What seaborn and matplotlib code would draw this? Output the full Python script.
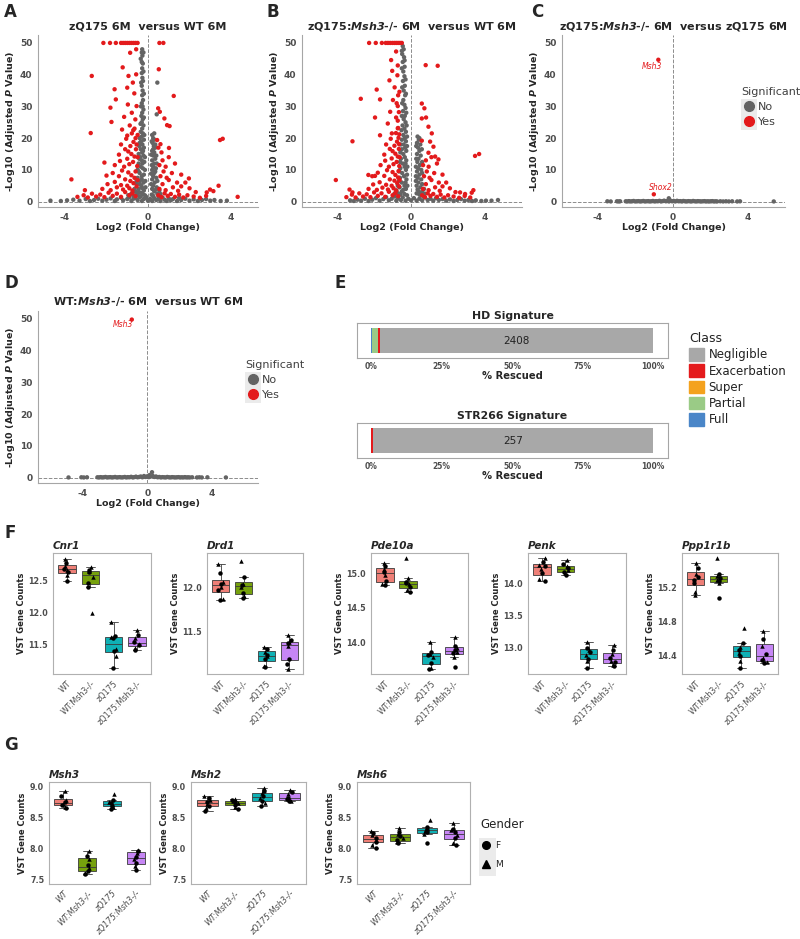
import numpy as np
import pandas as pd
import matplotlib
matplotlib.use('Agg')
import matplotlib.pyplot as plt
import seaborn as sns
from matplotlib.patches import Patch, Rectangle
from matplotlib.lines import Line2D

sns.set_style('white')
plt.rcParams['font.family'] = ['DejaVu Sans']
plt.rcParams['mathtext.fontset'] = 'dejavusans'
plt.rcParams['axes.unicode_minus'] = False

# ---------------- volcano data (log2 fold change, -log10 adjusted p) ----------------
a_grey = [(-0.28,48),(-0.3,47),(-0.27,46),(-0.3,44),(-0.25,43.5),(-0.28,42),(-0.3,40.5),(-0.27,39),(-0.24,38),
          (-0.3,36.5),(-0.26,35),(-0.28,33.5),(-0.24,32),(-0.3,31),(-0.26,30),(-0.22,29),(-0.28,28),(-0.32,27),
          (-0.25,26),(-0.3,25),(-0.22,24),(-0.28,23),(-0.35,22),(-0.25,21.5),(-0.3,20.5),(-0.4,20),(-0.2,19.5),
          (-0.33,19),(-0.27,18),(-0.42,17.5),(-0.2,17),(-0.35,16.5),(-0.28,15.5),(-0.45,15),(-0.22,14.5),
          (-0.38,14),(-0.3,13),(-0.18,12.5),(-0.45,12),(-0.35,11),(-0.25,10.5),(-0.5,10),(-0.4,9),(-0.2,8.5),
          (-0.3,8),(-0.5,7.5),(-0.4,6.5),(-0.22,6),(-0.55,5.5),(-0.32,5),(-0.45,4),(-0.2,3.5),(-0.6,3.2),
          (-0.35,2.8),(-0.5,2.2),(-0.15,2),(-0.7,1.8),
          (-0.22,47),(-0.35,45),(-0.22,41),(-0.33,37.5),(-0.2,34),(-0.34,30),(-0.2,26.5),(-0.36,24.5),(-0.18,21),
          (-0.4,18.5),(-0.24,16),(-0.15,14),(-0.42,13.5),(-0.27,12),(-0.15,10),(-0.45,9.5),(-0.3,7),(-0.13,6.5),
          (-0.55,6.5),(-0.4,5.5),(-0.28,4.3),(-0.12,4.5),(-0.65,4),(-0.45,3),(-0.25,2.4),(-0.8,2.5),(-0.6,2),
          (-0.1,1.6),(-0.35,1.6),(-0.95,2),
          (0.2,21),(0.25,20),(0.3,19.5),(0.22,18.5),(0.28,17.5),(0.35,17),(0.2,16),(0.3,15.5),(0.25,14.5),
          (0.35,13.5),(0.2,13),(0.3,12),(0.25,11),(0.38,10.5),(0.2,10),(0.3,9),(0.25,8),(0.4,7.5),(0.2,7),
          (0.32,6),(0.25,5),(0.42,4.5),(0.2,4),(0.3,3.2),(0.45,2.5),(0.18,2.2),(0.5,1.8),(0.45,37.5),(0.42,27.5),
          (0.3,21.5),(0.18,19),(0.35,18),(0.25,16.5),(0.15,14.8),(0.4,14.5),(0.18,11.5),(0.42,12),(0.35,9.5),
          (0.15,8.8),(0.45,6.5),(0.15,5.5),(0.38,3.8),(0.55,3.5),(0.6,2.4),(0.25,1.8),
          (-4.7,0.3),(-4.2,0.2),(-3.9,0.4),(-3.6,0.6),(-3.3,0.3),(-3.0,0.8),(-2.8,0.2),(-2.6,0.5),(-2.4,0.9),
          (-2.2,0.3),(-2.0,0.6),(-1.8,1.0),(-1.6,0.2),(-1.5,0.7),(-1.3,1.2),(-1.2,0.4),(-1.0,0.8),(-0.9,1.4),
          (-0.8,0.2),(-0.7,0.9),(-0.6,1.2),(-0.5,0.5),(-0.4,1.5),(-0.3,0.2),(-0.2,0.8),(-0.1,1.2),(0.0,0.3),
          (0.1,0.9),(0.2,0.2),(0.3,1.1),(0.4,0.5),(0.5,0.9),(0.6,0.2),(0.7,1.3),(0.8,0.6),(0.9,0.2),(1.0,1.0),
          (1.1,0.4),(1.2,0.8),(1.4,0.2),(1.5,1.2),(1.6,0.5),(1.8,0.9),(2.0,0.3),(2.2,0.7),(2.4,0.2),(2.6,0.5),
          (2.8,0.8),(3.0,0.3),(3.2,0.5),(3.5,0.2),(3.8,0.3)]
a_red = [(-2.15,50),(-1.83,50),(-1.55,50),(-1.3,50),(-1.2,50),(-1.1,50),(-1.0,50),(-0.9,50),(-0.8,50),
         (-0.7,50),(-0.6,50),(-0.5,50),(0.55,50),(0.74,50),
         (-2.71,39.6),(-2.76,21.6),(-3.69,7.0),(-3.04,3.6),(-1.61,35.4),(-1.55,32.2),(-1.81,29.6),(-1.76,25.1),
         (-2.1,12.3),(-1.22,42.3),(-0.86,46.9),(-0.57,48),(-0.94,39.6),(-0.57,40.1),(-0.73,37.5),(-1.0,35.9),
         (-0.66,34.1),(-0.97,30.6),(-0.55,30.1),(-0.78,28),(-1.15,26.7),(-0.61,25.9),(-0.88,24),(-1.25,22.7),
         (-0.71,22.5),(-1.0,20.8),(0.52,41.7),(0.49,29.4),(0.57,28.3),(0.79,26.2),(0.92,24.1),(1.04,23.8),
         (1.24,33.3),(0.44,19.4),(0.6,18.1),(1.01,16.9),(1.97,7.3),(3.47,19.4),(3.6,19.8),(3.4,5.0),
         (2.99,3.8),(2.83,2.9),(3.15,3.3),(4.32,1.5),
         (-3.4,1.5),(-3.1,2.0),(-2.9,1.3),(-2.7,2.5),(-2.5,1.6),(-2.3,2.2),(-2.1,1.4),(-1.9,2.8),(-1.7,1.8),
         (-1.5,2.5),(-1.3,1.5),(-1.1,3.0),(-0.9,2.0),(-0.75,2.6),(-0.6,1.7),(-2.2,4.0),(-1.95,5.5),(-1.8,3.6),
         (-1.6,6.2),(-1.5,4.5),(-1.4,8.0),(-1.3,5.2),(-1.2,3.8),(-1.1,7.0),(-1.0,5.0),(-0.95,9.2),(-0.9,4.2),
         (-0.85,6.5),(-0.8,8.3),(-0.75,3.5),(-0.7,5.8),(-0.65,7.5),(-0.6,9.5),(-0.55,4.8),(-0.5,6.8),
         (-1.7,9.0),(-2.0,8.2),(-1.25,9.8),(-1.6,11.5),(-1.35,12.8),(-1.15,11.0),(-1.0,13.5),(-0.9,11.8),
         (-0.8,15.0),(-0.72,12.5),(-0.65,14.2),(-0.58,16.5),(-0.52,11.2),(-0.85,17.5),(-0.7,18.8),(-0.6,20.0),
         (-0.95,15.8),(-1.1,16.5),(-0.5,14.0),(-0.55,18.0),(-0.78,21.5),(-1.3,18.0),(-0.65,23.0),(-0.5,21.0),
         (-1.05,19.8),(-1.4,14.8),
         (0.5,2.0),(0.65,1.4),(0.8,2.6),(0.95,1.8),(1.1,2.4),(1.3,1.5),(1.5,2.2),(1.7,1.3),(1.9,2.0),(2.2,1.6),
         (2.5,1.2),(2.8,1.8),(0.55,4.0),(0.7,5.5),(0.85,3.6),(1.0,6.8),(1.2,4.5),(1.45,3.4),(0.6,8.0),
         (0.75,9.5),(0.9,7.5),(1.15,9.0),(1.4,6.0),(1.6,4.8),(0.55,11.5),(0.7,13.0),(0.85,11.0),(1.0,14.0),
         (0.65,15.5),(0.5,17.0),(1.3,12.0),(1.6,8.5),(1.8,6.0),(2.3,3.0),(2.0,4.2)]

b_grey = [(-0.45,49),(-0.4,48),(-0.48,46.5),(-0.38,45.5),(-0.45,44),(-0.35,42.5),(-0.42,41),(-0.36,39.5),
          (-0.44,38),(-0.34,36.5),(-0.4,35),(-0.32,33.5),(-0.42,32),(-0.36,30.5),(-0.3,29.5),(-0.44,28.5),
          (-0.34,27),(-0.4,26),(-0.3,25),(-0.46,24),(-0.36,23),(-0.28,22),(-0.42,21),(-0.34,20),(-0.5,19.5),
          (-0.28,19),(-0.4,18),(-0.32,17),(-0.5,16.5),(-0.26,16),(-0.42,15),(-0.34,14),(-0.55,13.5),(-0.26,13),
          (-0.45,12),(-0.35,11),(-0.58,10.5),(-0.28,10),(-0.48,9),(-0.38,8),(-0.6,7.5),(-0.25,7),(-0.5,6),
          (-0.36,5),(-0.62,4.5),(-0.28,4),(-0.5,3.2),(-0.7,2.6),(-0.36,2.4),(-0.22,2),
          (-0.5,47.5),(-0.35,44.5),(-0.5,42),(-0.3,38.5),(-0.48,36),(-0.28,34),(-0.48,31),(-0.26,28),(-0.5,27),
          (-0.24,24),(-0.52,22.5),(-0.22,20.5),(-0.56,18),(-0.22,17.5),(-0.58,15.5),(-0.3,12),(-0.6,12.5),
          (-0.2,11),(-0.64,9.5),(-0.22,8.5),(-0.66,6.5),(-0.3,6),(-0.72,5),(-0.2,5),(-0.8,3.5),(-0.42,3.7),
          (-0.9,2.5),(-0.58,2.2),
          (0.35,20.5),(0.42,19.5),(0.32,18.5),(0.5,18),(0.38,17),(0.45,16),(0.32,15),(0.52,14.5),(0.4,13.5),
          (0.34,12.5),(0.48,11.5),(0.38,10.5),(0.55,10),(0.32,9.5),(0.45,8.5),(0.36,7.5),(0.55,7),(0.4,6),
          (0.3,5),(0.5,4.5),(0.35,3.8),(0.6,3),(0.3,2.6),(0.45,2.2),(0.65,1.8),
          (0.45,20),(0.28,17.5),(0.58,16.5),(0.28,13.5),(0.6,12.5),(0.26,11),(0.6,9),(0.26,8),(0.6,5.5),
          (0.26,6.5),(0.7,4),(0.42,3.2),(0.75,2.5),(0.55,2),
          (-3.3,0.4),(-3.1,0.2),(-2.9,0.6),(-2.7,0.3),(-2.5,0.9),(-2.3,0.2),(-2.1,0.6),(-1.9,1.1),(-1.7,0.3),
          (-1.5,0.8),(-1.35,1.4),(-1.2,0.4),(-1.05,0.9),(-0.9,1.6),(-0.8,0.3),(-0.7,1.0),(-0.55,0.5),
          (-0.45,1.3),(-0.3,0.3),(-0.15,0.9),(0.0,0.4),(0.15,1.1),(0.3,0.3),(0.45,0.9),(0.6,0.4),(0.75,1.3),
          (0.9,0.5),(1.05,0.9),(1.2,0.3),(1.35,1.1),(1.5,0.5),(1.7,0.8),(1.9,0.3),(2.1,0.7),(2.3,0.2),
          (2.5,0.5),(2.7,0.8),(2.9,0.3),(3.1,0.5),(3.3,0.2),(3.5,0.4),(3.8,0.2),(4.05,0.3),(4.35,0.3),(4.7,0.5)]
b_red = [(-2.27,50),(-1.91,50),(-1.58,50),(-1.37,50),(-1.25,50),(-1.13,50),(-1.01,50),(-0.9,50),(-0.8,50),
         (-0.7,50),(-0.6,50),(-0.5,50),
         (-3.17,19.0),(-4.07,6.8),(-3.33,3.8),(-3.17,2.9),(-2.72,32.4),(-1.86,35.3),(-1.68,32.2),(-1.95,26.5),
         (-1.68,20.9),(-2.31,8.4),(-1.95,8.1),(-1.08,44.6),(-0.81,47.3),(-1.02,41.2),(-0.72,42.9),(-1.17,38.2),
         (-0.74,39.8),(-0.89,36.0),(-0.63,34.6),(-0.98,32.0),(-0.72,30.1),(-1.13,28.3),(-0.81,26.5),
         (-1.26,24.6),(-0.72,23.1),(-1.04,21.5),(0.79,43.0),(1.44,42.8),(0.58,30.9),(0.72,29.4),(0.58,26.2),
         (0.81,26.5),(0.94,23.6),(1.12,21.5),(0.58,19.2),(1.03,18.9),(1.21,17.3),(0.94,15.4),(1.3,14.2),
         (1.48,13.3),(3.46,14.4),(3.68,15.0),(2.92,2.4),(2.65,2.9),(3.28,2.8),(3.37,3.6),
         (-3.5,1.4),(-3.2,2.2),(-3.0,1.3),(-2.8,2.6),(-2.6,1.6),(-2.4,2.3),(-2.2,1.4),(-2.0,2.9),(-1.8,1.8),
         (-1.6,2.6),(-1.4,1.5),(-1.2,3.1),(-1.0,2.0),(-0.85,2.7),(-0.7,1.7),(-2.3,4.0),(-2.05,5.4),
         (-1.85,3.7),(-1.7,6.1),(-1.55,4.4),(-1.45,8.1),(-1.35,5.3),(-1.25,3.8),(-1.15,7.0),(-1.05,5.0),
         (-1.0,9.3),(-0.95,4.2),(-0.9,6.6),(-0.85,8.4),(-0.8,3.5),(-0.75,5.8),(-0.7,7.6),(-0.68,9.6),
         (-0.65,4.8),(-0.62,6.8),(-1.8,9.1),(-2.1,8.0),(-1.3,9.9),(-1.65,11.5),(-1.4,12.9),(-1.2,11.0),
         (-1.05,13.6),(-0.95,11.8),(-0.85,15.1),(-0.78,12.5),(-0.72,14.2),(-0.66,16.6),(-0.64,11.2),
         (-0.9,17.6),(-0.76,18.9),(-0.68,20.1),(-1.0,15.9),(-1.15,16.6),(-0.62,14.0),(-0.65,18.1),
         (-0.82,21.6),(-1.35,18.0),(-0.7,23.2),(-0.64,21.2),(-1.1,19.8),(-1.45,14.8),(-0.72,25.5),
         (-0.66,28.2),(-0.78,31.0),(-0.7,33.5),
         (0.6,2.0),(0.75,1.4),(0.9,2.6),(1.05,1.8),(1.2,2.4),(1.4,1.5),(1.6,2.2),(1.8,1.3),(2.0,2.0),
         (2.3,1.6),(2.6,1.2),(2.9,1.8),(3.2,1.3),(0.65,4.0),(0.8,5.5),(0.95,3.6),(1.1,6.8),(1.3,4.5),
         (1.55,3.4),(0.7,8.0),(0.85,9.5),(1.0,7.5),(1.25,9.0),(1.5,6.0),(1.7,4.8),(0.65,11.5),(0.8,13.0),
         (0.95,11.0),(1.1,14.0),(1.4,12.0),(1.7,8.5),(1.9,6.0),(2.4,3.0),(2.1,4.2)]

c_grey = [(-3.48,0.1),(-3.3,0.05),(-2.97,0.1),(-2.88,0.05),(-2.8,0.1),(-2.5,0.1),(-2.42,0.05),(-2.33,0.15),
          (-2.25,0.05),(-2.16,0.1),(-2.08,0.2),(-1.99,0.05),(-1.9,0.1),(-1.82,0.15),(-1.73,0.05),(-1.65,0.1),
          (-1.56,0.2),(-1.48,0.05),(-1.39,0.1),(-1.3,0.15),(-1.22,0.05),(-1.13,0.1),(-1.05,0.2),(-0.96,0.05),
          (-0.88,0.15),(-0.79,0.1),(-0.7,0.25),(-0.62,0.05),(-0.53,0.15),(-0.45,0.3),(-0.36,0.1),(-0.28,0.2),
          (-0.2,1.05),(-0.19,0.05),(-0.1,0.3),(-0.02,0.1),(0.07,0.2),(0.15,0.05),(0.24,0.25),(0.32,0.1),
          (0.41,0.15),(0.5,0.05),(0.58,0.2),(0.67,0.1),(0.75,0.05),(0.84,0.15),(0.93,0.1),(1.01,0.05),
          (1.1,0.2),(1.18,0.1),(1.27,0.05),(1.35,0.15),(1.44,0.1),(1.52,0.05),(1.61,0.1),(1.7,0.15),
          (1.78,0.05),(1.87,0.1),(1.95,0.05),(2.04,0.1),(2.12,0.15),(2.21,0.05),(2.3,0.1),(2.38,0.05),
          (2.55,0.1),(2.7,0.05),(2.85,0.1),(3.0,0.05),(3.18,0.1),(3.45,0.05),(3.6,0.1),(5.4,0.05)]
c_red = [(-0.76,44.7),(-1.0,2.3)]
c_text = [('Msh3', -1.12, 42.6), ('Shox2', -0.62, 4.4)]

d_grey = [(-4.9,0.05),(-4.1,0.1),(-3.95,0.05),(-3.75,0.1),(-3.1,0.1),(-3.0,0.05),(-2.9,0.15),(-2.8,0.05),
          (-2.7,0.1),(-2.6,0.2),(-2.5,0.05),(-2.4,0.1),(-2.3,0.15),(-2.2,0.05),(-2.1,0.1),(-2.0,0.2),
          (-1.9,0.05),(-1.8,0.1),(-1.7,0.15),(-1.6,0.05),(-1.5,0.1),(-1.4,0.2),(-1.3,0.05),(-1.2,0.15),
          (-1.1,0.1),(-1.0,0.25),(-0.9,0.05),(-0.8,0.15),(-0.7,0.3),(-0.6,0.1),(-0.5,0.2),(-0.4,0.35),
          (-0.3,0.1),(-0.2,0.5),(-0.1,0.2),(0.0,0.4),(0.1,0.15),(0.15,0.8),(0.2,0.3),(0.3,1.7),(0.35,0.5),
          (0.45,0.2),(0.55,0.35),(0.65,0.1),(0.75,0.2),(0.85,0.05),(0.95,0.15),(1.05,0.1),(1.15,0.05),
          (1.25,0.2),(1.35,0.1),(1.45,0.05),(1.55,0.15),(1.65,0.1),(1.75,0.05),(1.85,0.1),(1.95,0.15),
          (2.05,0.05),(2.15,0.1),(2.25,0.05),(2.35,0.15),(2.45,0.05),(2.55,0.1),(2.65,0.05),(2.8,0.1),
          (3.1,0.05),(3.25,0.1),(3.4,0.05),(3.75,0.1),(4.9,0.05)]
d_red = [(-0.96,49.8)]
d_text = [('Msh3', -1.52, 48.2)]

# ---------------- rescue signature data (% of genes) ----------------
rescue_classes = ['Full', 'Partial', 'Super', 'Exacerbation', 'Negligible']
hd_pct = [0.4, 2.1, 0.0, 0.7, 96.8]
str266_pct = [0.0, 0.0, 0.0, 0.5, 99.5]
hd_negligible_n = 2408
str266_negligible_n = 257
class_colors = {'Negligible': '#A8A8A8', 'Exacerbation': '#E41A1C', 'Super': '#F4A21E',
                'Partial': '#9ACB86', 'Full': '#4A86C8'}

# ---------------- VST gene counts, 8 mice per genotype ----------------
groups = ['WT', 'WT:Msh3-/-', 'zQ175', 'zQ175:Msh3-/-']
group_colors = ['#F8766D', '#7CAE00', '#00BFC4', '#C77CFF']
sex = ['F', 'M', 'F', 'M', 'F', 'M', 'F', 'M']

cnr1 = [[12.48, 12.58, 12.62, 12.66, 12.68, 12.72, 12.76, 12.83],
        [12.40, 11.99, 12.45, 12.55, 12.62, 12.64, 12.66, 12.70],
        [11.15, 11.33, 11.40, 11.44, 11.60, 11.62, 11.63, 11.85],
        [11.42, 11.45, 11.50, 11.52, 11.55, 11.60, 11.66, 11.73]]
drd1 = [[11.85, 11.86, 11.97, 12.00, 12.04, 12.06, 12.16, 12.27],
        [11.88, 11.90, 11.93, 12.00, 12.03, 12.04, 12.12, 12.30],
        [11.09, 11.10, 11.18, 11.21, 11.23, 11.26, 11.29, 11.32],
        [11.12, 11.07, 11.18, 11.33, 11.36, 11.37, 11.40, 11.45]]
pde10a = [[14.82, 14.84, 14.88, 14.97, 15.02, 15.06, 15.10, 15.14],
          [14.72, 14.76, 14.80, 14.84, 14.87, 14.93, 14.85, 15.22],
          [13.61, 13.63, 13.70, 13.78, 13.81, 13.83, 13.86, 14.00],
          [13.64, 13.78, 13.84, 13.86, 13.89, 13.92, 13.95, 14.07]]
penk = [[14.03, 14.06, 14.15, 14.22, 14.27, 14.29, 14.33, 14.39],
        [14.12, 14.15, 14.18, 14.21, 14.23, 14.26, 14.30, 14.36],
        [12.68, 12.78, 12.82, 12.88, 12.92, 12.96, 12.99, 13.08],
        [12.70, 12.72, 12.76, 12.79, 12.83, 12.90, 12.96, 13.04]]
ppp1r1b = [[15.25, 15.11, 15.32, 15.14, 15.28, 15.36, 15.42, 15.48],
           [15.08, 15.25, 15.27, 15.29, 15.31, 15.33, 15.35, 15.54],
           [14.26, 14.34, 14.40, 14.44, 14.47, 14.50, 14.55, 14.73],
           [14.32, 14.33, 14.35, 14.38, 14.42, 14.52, 14.60, 14.69]]
msh3 = [[8.66, 8.68, 8.71, 8.73, 8.75, 8.79, 8.86, 8.93],
        [7.60, 7.62, 7.65, 7.69, 7.74, 7.84, 7.88, 7.96],
        [8.65, 8.67, 8.70, 8.72, 8.74, 8.76, 8.79, 8.89],
        [7.66, 7.72, 7.78, 7.84, 7.87, 7.94, 7.97, 7.99]]
msh2 = [[8.62, 8.66, 8.70, 8.72, 8.75, 8.79, 8.82, 8.86],
        [8.64, 8.68, 8.71, 8.74, 8.75, 8.77, 8.79, 8.80],
        [8.69, 8.74, 8.78, 8.82, 8.85, 8.90, 8.93, 8.98],
        [8.77, 8.78, 8.80, 8.81, 8.83, 8.89, 8.92, 8.95]]
msh6 = [[8.01, 8.07, 8.12, 8.15, 8.17, 8.22, 8.26, 8.29],
        [8.09, 8.11, 8.14, 8.18, 8.21, 8.24, 8.27, 8.34],
        [8.10, 8.24, 8.27, 8.29, 8.31, 8.33, 8.36, 8.47],
        [8.06, 8.09, 8.18, 8.22, 8.27, 8.30, 8.33, 8.42]]

W, H = 800, 939
fig = plt.figure(figsize=(W / 100, H / 100), dpi=100)
tick_grey = '#4D4D4D'
line_grey = '#A6A6A6'


def add_ax(l, t, r, b):
    # pixel box (left, top, right, bottom) -> figure axes
    return fig.add_axes([l / W, 1 - b / H, (r - l) / W, (b - t) / H])


def letter(x, y, s):
    fig.text(x / W, 1 - y / H, s, fontsize=12, fontweight='bold', va='center', ha='left')


def key_box(l, t, r, b):
    # light grey legend key background, as in ggplot
    fig.add_artist(Rectangle((l / W, 1 - b / H), (r - l) / W, (b - t) / H, transform=fig.transFigure,
                             facecolor='#EBEBEB', edgecolor='none', zorder=1))


def volcano(box, grey, red, xlim, title, texts=()):
    ax = add_ax(*box)
    df = pd.DataFrame(grey + red, columns=['lfc', 'padj'])
    df['Significant'] = ['No'] * len(grey) + ['Yes'] * len(red)
    sns.scatterplot(data=df, x='lfc', y='padj', hue='Significant',
                    palette={'No': '#646464', 'Yes': '#E31A1C'}, s=10, linewidth=0,
                    legend=False, ax=ax)
    ax.axhline(0, color='#8C8C8C', ls='--', lw=0.7, zorder=0)
    ax.axvline(0, color='#8C8C8C', ls='--', lw=0.7, zorder=0)
    for s, x, y in texts:
        ax.text(x, y, s, color='#E31A1C', fontsize=5.5, fontstyle='italic', ha='center', va='center')
    ax.set_xlim(xlim)
    ax.set_ylim(-1.7, 52.5)
    ax.set_xticks([-4, 0, 4])
    ax.set_yticks([0, 10, 20, 30, 40, 50])
    ax.set_title(title, fontsize=8, fontweight='bold', pad=4)
    ax.set_xlabel('Log2 (Fold Change)', fontsize=6.8, fontweight='bold', labelpad=1)
    ax.set_ylabel(r'-Log10 (Adjusted $\mathbfit{P}$ Value)', fontsize=6.8, fontweight='bold', labelpad=2)
    for sp in ['top', 'right']:
        ax.spines[sp].set_visible(False)
    for sp in ['left', 'bottom']:
        ax.spines[sp].set_color(line_grey)
        ax.spines[sp].set_linewidth(0.8)
    ax.tick_params(length=2.5, width=0.6, color=line_grey, labelsize=6.5, labelcolor=tick_grey, pad=1.5)
    for lab in ax.get_xticklabels() + ax.get_yticklabels():
        lab.set_fontweight('bold')
    return ax


def sig_legend(x, y):
    key_box(x, y + 12, x + 16, y + 43)
    handles = [Line2D([], [], marker='o', ls='', color='#646464', markersize=7),
               Line2D([], [], marker='o', ls='', color='#E31A1C', markersize=7)]
    leg = fig.legend(handles, ['No', 'Yes'], title='Significant', loc='upper left',
                     bbox_to_anchor=(x / W, 1 - y / H), frameon=False, fontsize=8,
                     title_fontsize=8, alignment='left', handletextpad=0.1, labelspacing=0.45,
                     borderpad=0, borderaxespad=0, handlelength=1.45)
    for t in leg.get_texts() + [leg.get_title()]:
        t.set_color('#404040')


def rescue_bar(box, pct, n, title):
    ax = add_ax(*box)
    left = 0
    for cls, p in zip(rescue_classes, pct):
        ax.barh(0, p, left=left, height=0.9, color=class_colors[cls], linewidth=0)
        if cls == 'Negligible':
            ax.text(left + p / 2, 0, str(n), ha='center', va='center', fontsize=7.5, color='#222222')
        left += p
    ax.set_xlim(-5, 105.3)
    ax.set_ylim(-0.62, 0.62)
    ax.set_yticks([])
    ax.set_xticks([0, 25, 50, 75, 100])
    ax.set_xticklabels(['0%', '25%', '50%', '75%', '100%'])
    ax.tick_params(axis='x', length=2, width=0.6, color=line_grey, labelsize=5.5, labelcolor=tick_grey, pad=1)
    for lab in ax.get_xticklabels():
        lab.set_fontweight('bold')
    for sp in ax.spines.values():
        sp.set_color(line_grey)
        sp.set_linewidth(0.8)
    ax.set_title(title, fontsize=7.8, fontweight='bold', pad=3)
    ax.set_xlabel('% Rescued', fontsize=7.2, fontweight='bold', labelpad=0)


def gene_panel(box, gene, values, ylim, yticks, italic=False, seed=0):
    ax = add_ax(*box)
    df = pd.DataFrame({'Genotype': np.repeat(groups, len(sex)),
                       'VST': np.concatenate(values),
                       'Gender': sex * len(groups)})
    sns.boxplot(data=df, x='Genotype', y='VST', hue='Genotype', order=groups, hue_order=groups,
                palette=group_colors, width=0.75, showfliers=False, linewidth=0.6,
                linecolor='#3A3A3A', saturation=0.85, legend=False, ax=ax)
    np.random.seed(seed)
    for s, m in [('F', 'o'), ('M', '^')]:
        sns.stripplot(data=df[df['Gender'] == s], x='Genotype', y='VST', order=groups,
                      color='black', marker=m, size=3.2, jitter=0.12, ax=ax)
    ax.set_xlim(-0.6, 3.6)
    ax.set_ylim(ylim)
    ax.set_yticks(yticks)
    ax.set_yticklabels([f'{v:.1f}' for v in yticks])
    ax.set_xticks(range(len(groups)))
    ax.set_xticklabels(groups, rotation=45, ha='right', rotation_mode='anchor',
                       fontstyle='italic' if italic else 'normal')
    ax.tick_params(length=2, width=0.6, color=line_grey, labelsize=5.8, labelcolor=tick_grey, pad=1.5)
    for lab in ax.get_yticklabels():
        lab.set_fontweight('bold')
    for sp in ax.spines.values():
        sp.set_color('#B0B0B0')
        sp.set_linewidth(0.8)
    ax.set_xlabel('')
    ax.set_ylabel('VST Gene Counts', fontsize=6, fontweight='bold', labelpad=2)
    ax.set_title(gene, loc='left', fontsize=7.5, fontweight='bold', fontstyle='italic', pad=3)


# ---------------- A-D volcano plots ----------------
letter(4, 12, 'A')
volcano((38, 35, 258, 207), a_grey, a_red, (-5.3, 5.3), 'zQ175 6M  versus WT 6M')
letter(267, 12, 'B')
volcano((302, 35, 522, 207), b_grey, b_red, (-5.9, 6.0), r'zQ175:$\mathbfit{Msh3}$-/- 6M  versus WT 6M')
letter(531, 12, 'C')
volcano((562, 35, 785, 207), c_grey, c_red, (-5.9, 6.0),
        r'zQ175:$\mathbfit{Msh3}$-/- 6M  versus zQ175 6M', c_text)
sig_legend(741, 87)
letter(4, 283, 'D')
volcano((38, 311, 258, 483), d_grey, d_red, (-6.8, 6.9), r'WT:$\mathbfit{Msh3}$-/- 6M  versus WT 6M', d_text)
sig_legend(245, 360)

# ---------------- E rescue bars ----------------
letter(335, 283, 'E')
rescue_bar((357, 323, 668, 358), hd_pct, hd_negligible_n, 'HD Signature')
rescue_bar((357, 423, 668, 458), str266_pct, str266_negligible_n, 'STR266 Signature')
order = ['Negligible', 'Exacerbation', 'Super', 'Partial', 'Full']
leg = fig.legend([Patch(color=class_colors[c]) for c in order], order, title='Class', loc='upper left',
                 bbox_to_anchor=(689 / W, 1 - 332 / H), frameon=False, fontsize=8.5, title_fontsize=9,
                 alignment='left', handlelength=1.25, handleheight=1.25, handletextpad=0.4,
                 labelspacing=0.26, borderpad=0, borderaxespad=0)
for t in leg.get_texts() + [leg.get_title()]:
    t.set_color('#222222')

# ---------------- F striatal markers ----------------
letter(4, 533, 'F')
gene_panel((53, 553, 151, 674), 'Cnr1', cnr1, (11.05, 12.92), [11.5, 12.0, 12.5], seed=1)
gene_panel((207, 553, 303, 674), 'Drd1', drd1, (11.01, 12.39), [11.5, 12.0], seed=2)
gene_panel((371, 553, 468, 674), 'Pde10a', pde10a, (13.54, 15.29), [14.0, 14.5, 15.0], seed=3)
gene_panel((528, 553, 626, 674), 'Penk', penk, (12.58, 14.47), [13.0, 13.5, 14.0], seed=4)
gene_panel((682, 553, 778, 674), 'Ppp1r1b', ppp1r1b, (14.19, 15.6), [14.4, 14.8, 15.2], seed=5)

# ---------------- G MMR genes ----------------
letter(4, 745, 'G')
gene_panel((49, 782, 150, 884), 'Msh3', msh3, (7.435, 9.08), [7.5, 8.0, 8.5, 9.0], italic=True, seed=6)
gene_panel((191, 782, 306, 884), 'Msh2', msh2, (7.435, 9.08), [7.5, 8.0, 8.5, 9.0], italic=True, seed=7)
gene_panel((357, 782, 470, 884), 'Msh6', msh6, (7.435, 9.08), [7.5, 8.0, 8.5, 9.0], italic=True, seed=8)
key_box(479, 838, 496, 876)
g_handles = [Line2D([], [], marker='o', ls='', color='black', markersize=5.5),
             Line2D([], [], marker='^', ls='', color='black', markersize=5.5)]
leg = fig.legend(g_handles, ['F', 'M'], title='Gender', loc='upper left', bbox_to_anchor=(480 / W, 1 - 818 / H),
                 frameon=False, fontsize=6.5, title_fontsize=8.5, alignment='left', handletextpad=0.4,
                 labelspacing=1.1, borderpad=0, borderaxespad=0, handlelength=1.3)
for t in leg.get_texts() + [leg.get_title()]:
    t.set_color('#222222')

fig.savefig('out.png', dpi=100)
